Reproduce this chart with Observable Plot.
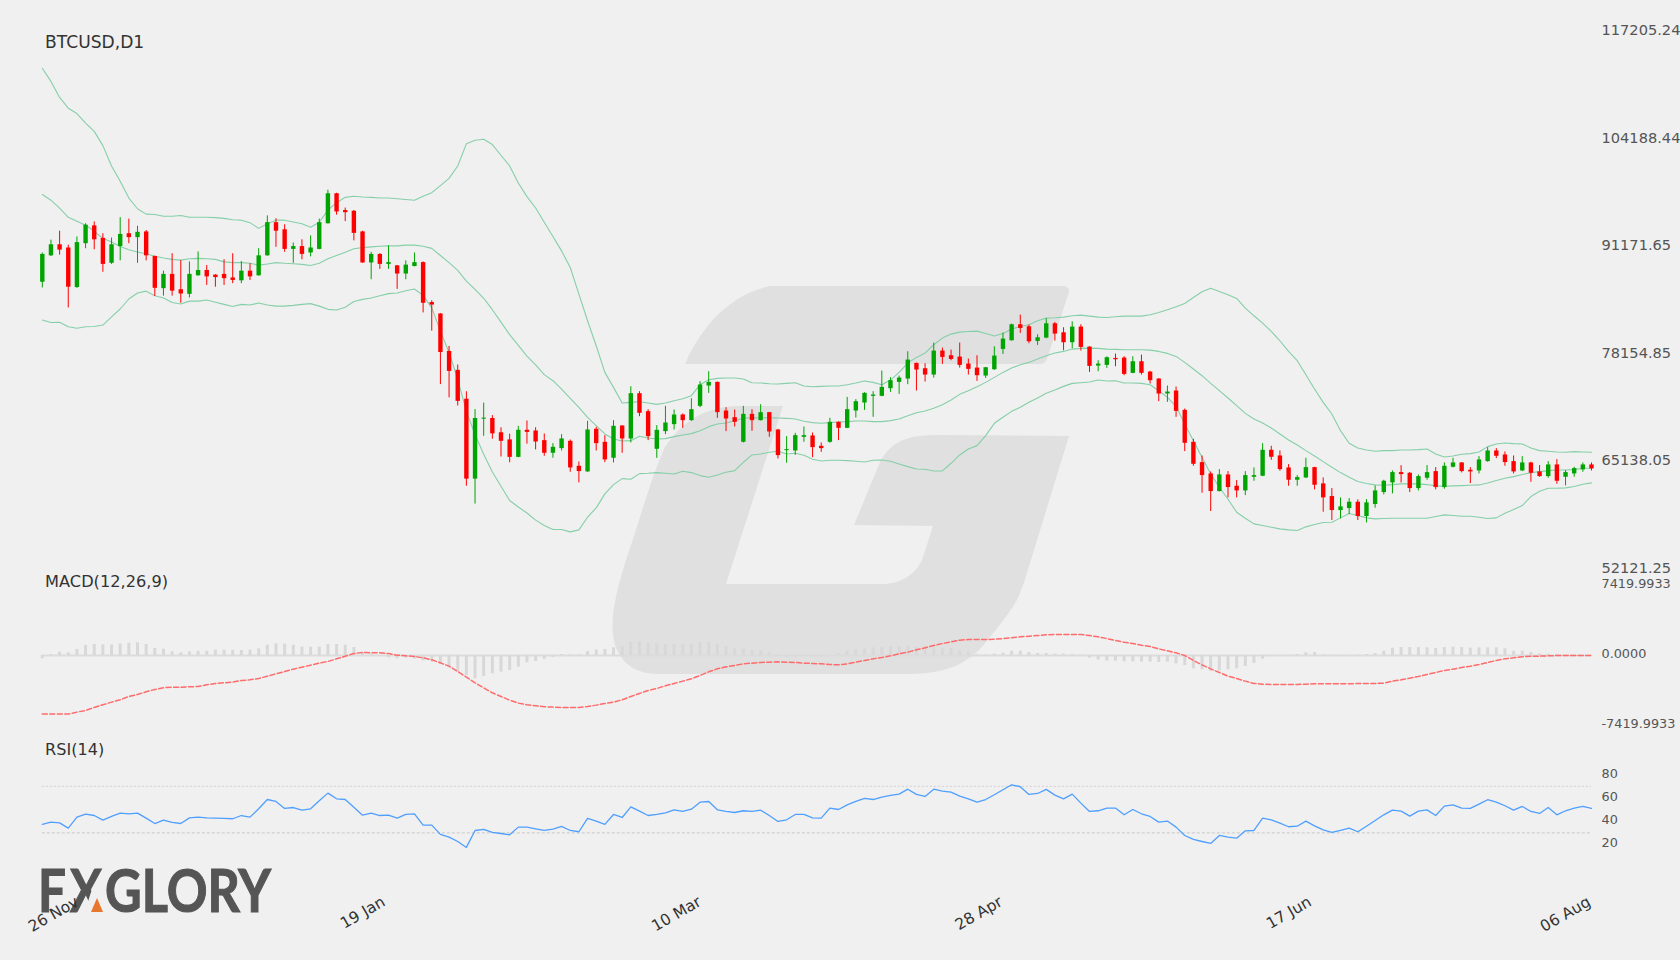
<!DOCTYPE html>
<html>
<head>
<meta charset="utf-8">
<title>BTCUSD,D1</title>
<script src="https://cdn.jsdelivr.net/npm/d3@7"></script>
<script src="https://cdn.jsdelivr.net/npm/@observablehq/plot@0.6"></script>
<style>
html,body{margin:0;padding:0;background:#f0f0f0;width:1680px;height:960px;overflow:hidden}
#stage{position:relative;width:1680px;height:960px;background:#f0f0f0;overflow:hidden}
#stage>div,#stage>svg{position:absolute;left:0}
svg{overflow:visible}
</style>
</head>
<body>
<div id="stage">
<svg id="mark" width="1680" height="960" style="top:0">
  <g fill="#e0e0e0">
    <path d="M685,364 C697,335 725,295 770,286 L1062,286 Q1070,286 1069,292 L1047,359 Q1045,364 1040,364 Z"/>
    <path d="M783,406 L735,406 C700,408 680,425 665,447 C650,480 640,520 626,560 C615,595 608,625 616,648 C625,668 640,674 660,674 L910,674 C950,674 972,660 985,643 C1000,625 1010,612 1017,600 C1024,585 1027,572 1031,560 L1069,436 L940,435 C908,435 892,440 880,462 L854,525 L933,526 L922,560 C915,575 900,584 883,584 L726,584 Z"/>
  </g>
  <g font-family="Lato,'Noto Sans',sans-serif" font-weight="700" font-size="60" fill="#555555" stroke="#555555" stroke-width="1.1">
    <text x="38" y="912" textLength="28" lengthAdjust="spacingAndGlyphs">F</text>
    <text x="70" y="912" textLength="32" lengthAdjust="spacingAndGlyphs">X</text>
    <path d="M92,889 L110,889 L110,914 L84,914 Z" fill="#f0f0f0" stroke="none"/>
    <path d="M97,898 L103,912 L91,912 Z" fill="#e8772e" stroke="none"/>
    <text x="105" y="912" textLength="166" lengthAdjust="spacingAndGlyphs">GLORY</text>
  </g>
</svg>
<div id="pPrice" style="top:0"></div>
<div id="pMacd" style="top:575px"></div>
<div id="pRsi" style="top:730px"></div>
</div>
<script>
const opens = [86718,89915,91254,90866,86070,91384,93544,92032,89008,91038,92594,92118,92810,89829,85941,87669,85811,85250,87496,88144,
87582,87669,87237,86891,88058,87496,89915,93933,93069,90693,91038,90261,90693,93803,97432,95402,95315,92810,89051,90088,
88878,88706,87712,88619,89094,84256,82874,78338,76048,72549,62872,70130,70216,68488,67624,65507,68790,68704,67534,66002,
66567,67454,64430,63744,68905,67333,65397,69308,67736,73219,71042,66486,68623,69470,70639,69953,71687,74147,74590,71123,
70316,67333,70719,69953,70921,68824,66325,66284,67937,68099,66849,67333,69752,69026,71123,72090,72897,72897,73824,74590,
74993,76888,76243,75477,78380,77816,77655,76808,76324,75356,76122,78582,79630,81566,81324,79550,79953,81687,80598,79388,
81283,78864,76566,76647,77493,77534,75679,77090,75840,74993,73179,73542,71203,67333,64873,63502,61365,63381,62010,61446,
63099,63220,66365,65679,64228,62736,63018,64268,62293,60760,59067,59309,60075,58341,59793,61244,62414,63663,63583,61728,
62978,63784,61849,64308,64833,63946,63865,64994,66284,65800,64994,63865,64833,63744,63179,64591,63099,63502,63986,64591];
const highs = [90261,91816,92896,91211,92205,93803,94019,92594,92075,94538,94365,93501,92982,89900,88058,90174,89354,89181,90390,88749,
87626,89440,90174,89224,88965,90779,94754,94408,93674,91470,91859,92334,94365,97864,97500,95704,95400,92896,90347,90174,
91125,88749,89310,90261,89181,84472,82917,78942,76696,73456,71296,72074,70562,69093,68315,69266,69914,69093,68341,67171,
68260,67615,64954,69873,69147,68139,69953,69349,74066,73461,71284,69349,71687,71244,70760,72615,74671,75880,74631,71526,
71244,71687,71284,71889,70960,68905,68018,68421,69187,68462,67252,70236,69792,72776,72494,73340,73461,75961,75155,75356,
78300,76928,76848,79348,78743,78501,79348,77413,77816,76405,78904,80558,81646,82735,81525,80356,82291,81848,81203,81928,
81566,78904,77211,77695,78017,77695,77695,77896,75921,75033,74147,74026,71365,67695,65679,63744,64026,63784,62696,63784,
64228,67171,66849,66284,64631,63301,65397,64308,63018,61728,60599,60519,60357,60397,62051,62736,63865,64510,63663,63381,
64510,64268,64833,65397,64873,64268,65599,66687,66567,66163,65679,65599,64913,64510,64994,65236,63905,64308,64833,64833];
const lows = [86027,89829,90002,83608,85984,90779,90650,87928,88878,89310,91384,89008,89310,84990,85034,85034,84170,84818,87453,86330,
86114,86330,86546,86546,86934,87453,89872,90952,90347,89008,89440,89786,90650,93760,94840,94062,91730,89008,87021,88274,
88274,85854,87021,88576,83003,80800,74320,72722,71728,62008,59848,68056,67710,65550,64859,65464,67106,66414,65639,65397,
66284,63704,62414,63704,66284,64873,64833,66002,67252,70437,67534,65397,68260,68824,69026,69873,71526,73260,70236,68623,
69187,67252,68663,69913,67937,65317,64792,65760,67333,65478,66123,67212,67534,68986,70276,71203,70357,72857,73381,73139,
74308,73542,74631,75114,76767,77211,76324,75477,74711,75074,76042,77977,79590,80517,79267,79066,79872,79590,78421,78663,
78380,75800,75880,76284,76485,75397,75639,75477,74389,72252,72171,70357,66204,64430,61164,58946,61325,60599,60599,60881,
62615,63179,65155,63825,62010,62010,62938,61567,58865,57857,58059,58583,57857,57575,59349,60962,61083,62414,61244,61446,
62736,61567,61647,64228,63623,62333,63502,64913,65357,64430,63502,63784,62494,63099,62978,62252,62051,63099,63704,63865];
const closes = [90088,91254,90606,86114,91514,93630,91859,88878,91254,92507,92118,92766,89915,85984,87669,85638,85293,87669,88144,87366,
87280,87150,86934,88058,87366,89915,93933,92896,90693,91038,90088,90866,93933,97432,95229,95142,92637,89051,90088,88878,
89094,87712,88792,89094,84170,83954,78208,75918,72290,62872,70216,70259,68358,67451,65507,68790,68531,67365,66002,66728,
67736,64228,63784,68824,67171,65196,69268,67736,73219,70840,68018,68784,69671,70639,69953,71284,74268,74590,70921,70155,
69752,70719,69953,70921,68583,65720,66446,68139,68139,66687,66567,69752,69026,71284,72252,73260,73058,73985,74792,75114,
77292,76082,75477,78380,77614,77372,76647,76163,75397,76364,77775,79832,81566,81122,79509,79993,81687,80437,79388,81283,
78824,76526,76808,77574,77332,75558,77090,75679,74792,73179,73421,71082,67212,64671,63301,61365,63381,61849,61446,63301,
63301,66365,65518,64026,62736,63059,64268,62131,60599,59067,59511,60075,58341,59994,61446,62615,63663,63422,61728,63179,
63663,61849,64430,64833,63784,63744,65196,66284,65639,64873,63744,64833,63583,63179,64591,62615,63663,64147,64591,64107];

const bbUpper = [112638,111040,109096,107800,107152,105986,104992,103264,100802,98944,96914,95618,94970,94926,94710,94710,94797,94581,94581,94581,
94538,94451,94278,94235,93933,93242,93803,94235,94235,94019,93803,93371,93976,95445,96352,97000,97130,97043,97000,96914,
96914,96827,96741,96654,97130,97562,98426,99290,100802,103480,103912,104042,103394,102098,100802,98728,97086,95704,93976,92248,
90520,88500,85275,82049,79025,75800,73985,72090,72171,72252,72090,71929,72090,72373,72615,72977,74308,74913,75074,75114,
75114,74993,74550,74510,74429,74389,74469,74550,74147,74066,74106,74147,74147,74308,74510,74751,74590,74308,74872,75800,
76929,77614,78138,79146,79953,80437,80679,80759,80799,80517,80195,80517,81041,81364,81566,82049,82372,82412,82493,82654,
82735,82614,82493,82453,82533,82614,82614,82614,82775,83057,83380,83743,84146,84872,85557,86001,85598,85194,84751,83582,
82654,81767,80759,79630,78340,77211,75518,73784,72171,70760,68744,67212,66647,66405,66244,66325,66325,66405,66405,66446,
66526,65921,65559,65679,65881,65962,66163,66808,67131,67252,67171,67131,66647,66325,66244,66163,66123,66204,66163,66123];
const bbMiddle = [97346,96654,95704,94581,94106,93630,92896,92032,91600,91038,90650,90390,90174,89872,89656,89483,89397,89570,89613,89570,
89483,89181,89094,89094,89008,88792,88922,89094,89008,88965,88878,88749,89008,89570,89958,90347,90779,90909,90995,91082,
91125,91125,91211,91211,91082,90822,89958,89094,88144,86848,85854,84774,83392,81880,80368,79072,77776,76696,75530,74792,
73784,72655,71566,70357,69349,68341,67736,67494,67534,68058,67857,67736,67776,68018,68220,68381,68744,69228,69550,69671,
69953,70236,70316,70276,70316,70276,70236,70155,69873,69711,69631,69711,69792,69832,69913,69913,69832,69832,69953,70155,
70558,70921,71123,71445,71889,72453,73139,73582,74066,74590,75195,75800,76324,76727,77009,77413,77816,78138,78340,78622,
78703,78743,78703,78622,78582,78542,78542,78542,78501,78340,78098,77735,77009,76203,75397,74469,73582,72695,71768,70840,
70155,69671,69066,68341,67615,67010,66325,65679,64994,64308,63663,63099,62575,62333,62172,62131,62212,62293,62293,62293,
62212,62051,62010,62051,62091,62131,62172,62414,62696,62978,63179,63422,63663,63784,63905,63986,63986,64026,64188,64188];
const bbLower = [82139,81837,81880,81318,81146,81318,81362,81534,82528,83478,84688,85422,85638,85077,84818,84256,84083,84429,84429,84558,
84299,84040,83781,84040,83954,84213,83954,83824,83824,83910,84040,84126,83824,83435,83349,83694,84386,84645,84818,85077,
85336,85422,85682,85898,85120,83608,80800,78208,74968,71080,68272,65896,63736,62008,60280,59502,58768,57904,57253,56769,
56769,56487,56728,58261,59390,61083,62212,62938,62857,63543,63583,63663,63583,63502,63825,63663,63301,63099,63381,63704,
63905,64913,65800,65922,66123,66244,65922,66002,65760,65276,65075,65155,65155,65115,65034,64954,65155,65196,65034,64712,
64389,64107,64067,63865,63865,64792,65800,66526,66929,68139,69631,70357,71082,71566,72171,72695,73260,73663,74106,74469,
74550,74631,74872,74751,74792,74510,74510,74469,74308,73582,72776,71687,69550,67534,65518,63502,61889,60438,58865,58140,
57454,57253,57051,56849,56728,56648,57091,57374,57615,57656,58180,58704,58462,58180,58059,58099,58140,58140,58140,58140,
58140,58341,58543,58462,58382,58382,58261,58099,58180,58744,59188,59672,60760,61406,61768,61768,61809,61970,62252,62414];

const macdSignal = [-6213,-6213,-6213,-6213,-6001,-5825,-5507,-5224,-4942,-4695,-4342,-4130,-3848,-3601,-3424,-3354,-3354,-3318,-3283,-3106,
-2965,-2895,-2824,-2648,-2577,-2436,-2189,-1942,-1694,-1447,-1236,-1024,-812,-635,-353,-71,212,318,282,282,
212,35,-35,-106,-247,-459,-777,-1130,-1694,-2295,-2895,-3424,-3954,-4342,-4730,-5048,-5224,-5330,-5436,-5472,
-5507,-5507,-5507,-5401,-5260,-5083,-4942,-4695,-4342,-4024,-3707,-3495,-3212,-2965,-2718,-2471,-2118,-1730,-1412,-1200,
-1059,-883,-812,-741,-706,-671,-706,-741,-812,-847,-883,-953,-988,
-883,-706,-530,-353,-212,-35,177,353,600,812,1059,1271,1447,1624,1694,1694,1694,1730,1800,1871,1977,2047,2118,2189,2224,2224,2224,2224,
2118,1977,1800,1589,1412,1271,1094,953,706,494,282,0,-530,-988,-1412,-1800,-2189,-2436,-2718,-2965,-3036,-3071,-3071,-3071,-3071,-3036,
-3001,-3001,-3001,-3001,-3001,-2965,-2965,-2965,-2930,-2718,-2577,-2400,-2224,-2012,-1800,-1589,-1447,-1271,-1130,-953,-741,-530,-353,-247,-141,-71,-71,-35,0,0,0,0,0];
const macdHist = [-353,106,353,282,635,1059,1165,1130,1130,1236,1306,1341,1165,741,671,388,282,388,459,459,
565,565,530,530,565,706,1094,1236,1200,1094,883,883,883,1165,1165,1094,847,282,141,0,
-247,-353,-282,-388,-565,-706,-953,-1306,-1765,-2118,-2471,-2224,-1942,-1765,-1589,-1236,-777,-635,-424,-212,
106,71,71,424,600,635,812,953,1412,1483,1306,1236,1200,1200,1165,1200,1377,1412,1200,953,
706,706,530,494,282,-106,-177,-177,-106,-106,-177,0,177,
459,600,706,812,883,918,918,1024,883,953,812,777,741,459,353,71,71,141,247,459,459,318,212,212,141,141,106,35,
-282,-459,-600,-600,-671,-671,-706,-706,-741,-706,-883,-1059,-1412,-1518,-1694,-1659,-1518,-1412,-1165,-847,-388,-71,0,35,106,282,318,71,35,-71,0,35,106,212,459,
777,847,847,847,812,741,847,883,847,777,812,812,812,706,459,459,318,177,141,71,35,0,0,0];
const rsiValues = [37.2,39.2,38.6,34.0,43.5,46.1,44.9,40.9,44.1,47.0,46.4,47.0,42.6,38.0,40.9,38.9,38.0,42.9,43.5,42.9,
42.6,42.4,42.1,44.9,43.5,50.7,58.7,57.0,51.0,51.8,49.5,50.7,57.6,64.2,59.3,58.7,52.1,45.2,47.0,44.9,
45.2,42.6,45.8,46.4,36.6,36.6,28.6,26.3,22.5,17.4,32.0,32.9,30.3,29.4,28.3,34.9,34.9,33.4,32.0,33.2,
35.5,32.0,30.9,42.4,40.1,37.2,45.8,43.2,52.4,48.7,44.9,45.8,47.2,49.8,48.4,50.4,56.4,57.0,49.8,48.4,
47.5,49.0,48.4,49.5,44.9,39.8,41.2,45.8,45.8,42.9,42.6,51.3,50.1,
54.1,57.0,59.6,58.7,60.8,62.2,63.3,67.6,63.1,61.3,67.6,65.9,65.1,61.6,59.3,56.4,58.7,62.8,67.1,71.4,69.7,63.1,63.9,67.4,62.5,59.3,63.3,55.6,48.4,49.0,
51.3,51.3,45.5,50.1,46.4,44.1,39.2,40.1,34.9,27.7,24.3,22.5,20.8,27.7,26.3,25.4,31.7,32.0,42.6,41.2,38.3,35.2,35.7,40.1,36.0,32.6,30.3,32.0,34.0,30.9,
35.7,40.6,45.5,49.5,48.7,44.4,48.7,49.8,44.9,53.0,54.1,51.3,51.0,54.7,58.5,56.4,53.3,49.5,52.7,48.4,46.7,51.8,45.5,49.0,51.3,52.7,51.0];

const priceTicks = [117205.24,104188.44,91171.65,78154.85,65138.05,52121.25];
const macdTicks = [7419.9933,0,-7419.9933];
const rsiTicks = [80,60,40,20];
const rsiLevels = [70,30];
const dateLabels = ["26 Nov","19 Jan","10 Mar","28 Apr","17 Jun","06 Aug"];
const dateBars = [0,36,72,108,144,179];
const dateShift = [35,30,34.3,24,21.5,-2.3];

const bars = d3.range(opens.length);
const xScale = {domain:[0,179],range:[41.8,1591],axis:null};
const base = {
  width:1680, marginLeft:42, marginRight:82, marginTop:0, marginBottom:0,
  style:{background:"transparent",fontFamily:"'DejaVu Sans',sans-serif",overflow:"visible"}
};
const UP="#00a400", DOWN="#ff0000", BAND="#85cfa8", TXT="#333333", AXIS="#555555";
const candleColor = i => closes[i]>=opens[i]?UP:DOWN;
const title = (t,dy,fontSize) => Plot.text([t],{frameAnchor:"top-left",dx:2.6,dy,textAnchor:"start",lineAnchor:"middle",fontSize,fill:TXT,text:d=>d});

document.getElementById("pPrice").append(Plot.plot({
  ...base, height:575,
  x:xScale,
  y:{domain:[52121.25,117205.24],range:[567.4,30],axis:null},
  color:{type:"identity"},
  marks:[
    Plot.line(bars,{x:i=>i,y:i=>bbUpper[i],stroke:BAND,strokeWidth:1.1}),
    Plot.line(bars,{x:i=>i,y:i=>bbMiddle[i],stroke:BAND,strokeWidth:1.1}),
    Plot.line(bars,{x:i=>i,y:i=>bbLower[i],stroke:BAND,strokeWidth:1.1}),
    Plot.ruleX(bars,{x:i=>i,y1:i=>lows[i],y2:i=>highs[i],stroke:candleColor,strokeWidth:1}),
    Plot.ruleX(bars,{x:i=>i,y1:i=>opens[i],y2:i=>closes[i],stroke:candleColor,strokeWidth:4.4}),
    Plot.axisY(priceTicks,{anchor:"right",tickSize:0,tickPadding:3,label:null,fontSize:14.6,fill:AXIS,tickFormat:d=>d.toFixed(2)}),
    title("BTCUSD,D1",42,17.1)
  ]
}));

document.getElementById("pMacd").append(Plot.plot({
  ...base, height:155,
  x:xScale,
  y:{domain:[-7419.9933,7419.9933],range:[150,10],axis:null},
  color:{type:"identity"},
  marks:[
    Plot.ruleY([0],{x1:0,x2:179,stroke:"#dcdcdc",strokeWidth:1.8}),
    Plot.ruleX(bars,{x:i=>i,y1:0,y2:i=>macdHist[i],stroke:"#d8d8d8",strokeWidth:3}),
    Plot.line(bars,{x:i=>i,y:i=>macdSignal[i],stroke:"#ff6b6b",strokeWidth:1.5,strokeDasharray:"5,2.5"}),
    Plot.axisY(macdTicks,{anchor:"right",tickSize:0,tickPadding:3,label:null,fontSize:12.8,fill:AXIS,dy:-1.3,tickFormat:d=>d.toFixed(4)}),
    title("MACD(12,26,9)",6.7,16.2)
  ]
}));

document.getElementById("pRsi").append(Plot.plot({
  ...base, height:230,
  x:xScale,
  y:{domain:[20,80],range:[113.9,44.3],axis:null},
  color:{type:"identity"},
  marks:[
    Plot.ruleY(rsiLevels.slice(0,1),{x1:0,x2:179,stroke:"#d6d6d6",strokeWidth:1.2,strokeDasharray:"2,2"}),
    Plot.ruleY(rsiLevels.slice(1),{x1:0,x2:179,stroke:"#cfcfcf",strokeWidth:1.2,strokeDasharray:"3,2"}),
    Plot.line(bars,{x:i=>i,y:i=>rsiValues[i],stroke:"#4f9fff",strokeWidth:1.3}),
    Plot.axisY(rsiTicks,{anchor:"right",tickSize:0,tickPadding:3,label:null,fontSize:12.8,fill:AXIS,dy:-1.3,tickFormat:d=>String(d)}),
    ...dateLabels.map((label,i)=>Plot.text([label],{x:()=>dateBars[i],frameAnchor:"top",dx:dateShift[i],dy:170,rotate:-30,textAnchor:"end",lineAnchor:"middle",fontSize:15.5,fill:TXT,text:d=>d})),
    title("RSI(14)",19.7,16.1)
  ]
}));
</script>
</body>
</html>
